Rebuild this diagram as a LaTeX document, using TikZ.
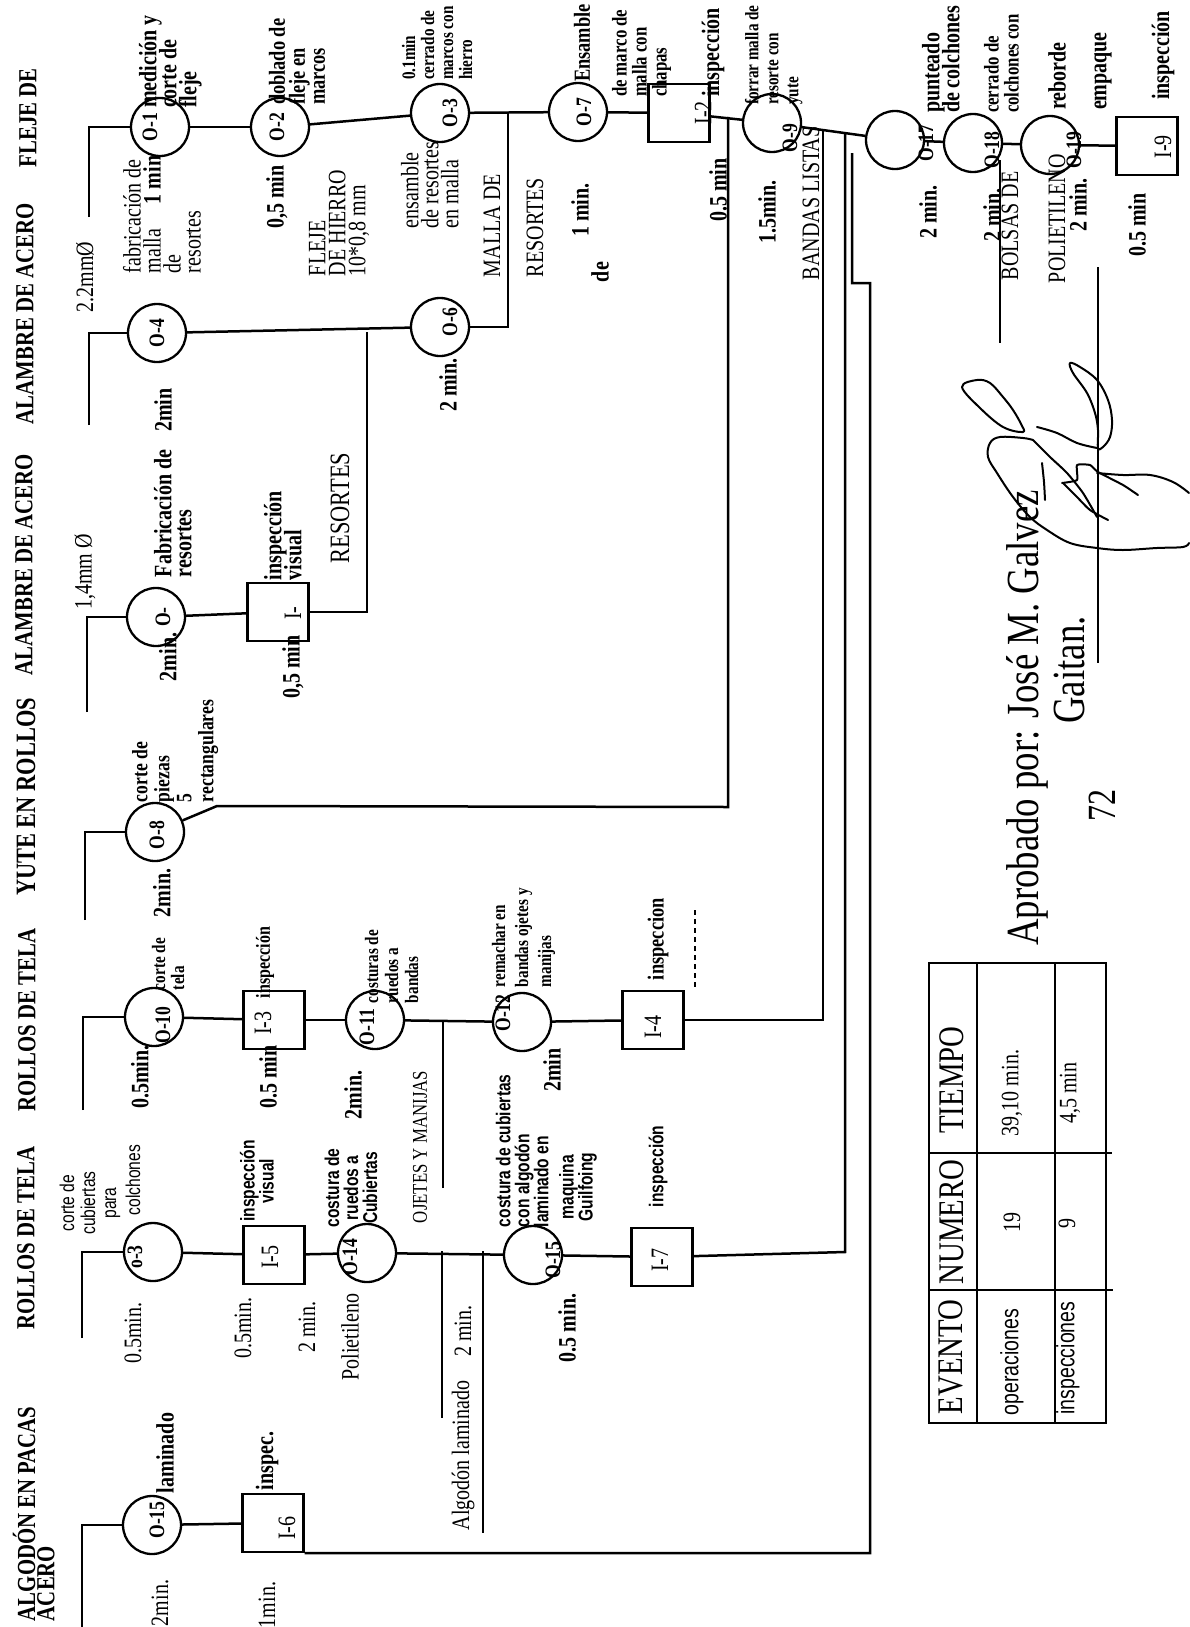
\documentclass[tikz,border=0pt]{standalone}
\usepackage{fontspec}
\setmainfont{Liberation Serif}
\newfontfamily\fsr[FakeStretch=0.8]{Liberation Serif}
\newfontfamily\fsn[FakeStretch=0.78]{Liberation Sans}
\newcommand\ftR{\fsr\fontsize{25}{20}\selectfont\lineskiplimit=-50pt\relax}
\newcommand\ftRa{\fsr\fontsize{21}{19}\selectfont\lineskiplimit=-50pt\relax}
\newcommand\ftB{\fsr\bfseries\fontsize{25}{20}\selectfont\lineskiplimit=-50pt\relax}
\newcommand\ftBc{\fsr\bfseries\fontsize{23}{20}\selectfont\lineskiplimit=-50pt\relax}
\newcommand\ftBd{\fsr\bfseries\fontsize{22}{20}\selectfont\lineskiplimit=-50pt\relax}
\newcommand\ftBa{\fsr\bfseries\fontsize{21}{20}\selectfont\lineskiplimit=-50pt\relax}
\newcommand\ftBe{\fsr\bfseries\fontsize{20}{20}\selectfont\lineskiplimit=-50pt\relax}
\newcommand\ftBb{\fsr\bfseries\fontsize{19}{19}\selectfont\lineskiplimit=-50pt\relax}
\newcommand\ftC{\fsr\bfseries\fontsize{22}{20}\selectfont}
\newcommand\ftS{\fsn\fontsize{20}{21}\selectfont\lineskiplimit=-50pt\relax}
\newcommand\ftSB{\fsn\bfseries\fontsize{20}{19}\selectfont\lineskiplimit=-50pt\relax}
\newcommand\ftSL{\fsn\fontsize{25}{25}\selectfont}
\newcommand\ftH{\fsr\bfseries\fontsize{26}{24}\selectfont}
\newcommand\ftHb{\fsr\bfseries\fontsize{28}{24}\selectfont}
\newcommand\ftT{\fsr\fontsize{36}{36}\selectfont}
\newcommand\ftA{\fsr\fontsize{46}{46}\selectfont}
\newcommand\ftN{\fsr\fontsize{28}{28}\selectfont}
\newcommand\ftP{\fsr\fontsize{40}{40}\selectfont}
\begin{document}
\begin{tikzpicture}[x=1pt,y=-1pt,
  lw/.style={line width=2.5pt},
  opc/.style={circle,draw,line width=2.3pt,minimum size=58pt,inner sep=0pt},
  ins/.style={rectangle,draw,line width=2.3pt,minimum width=61pt,minimum height=58pt,inner sep=0pt},
  tx/.style={rotate=90,inner sep=0pt,outer sep=0pt},
  tr/.style={tx,font=\ftR},
  tb/.style={tx,font=\ftB},
  tc/.style={tx,font=\ftC},
  ts/.style={tx,font=\ftS},
  tsb/.style={tx,font=\ftSB},
  hd/.style={tx,font=\ftH},
  blk/.style={align=left,anchor=north west},
  cblk/.style={align=center},
  sig/.style={line width=2pt,line cap=round,line join=round},
]
\fill[white] (0,0) rectangle (1189,1627);
\path[use as bounding box] (0,0) rectangle (1189,1627);

% ---------------- headers
\node[hd] (h1) at (28,118) {FLEJE DE};
\node[hd] (h2) at (25,314) {ALAMBRE DE ACERO};
\node[hd] (h3) at (24,565) {ALAMBRE DE ACERO};
\node[hd,font=\ftHb] (h4) at (26,797) {YUTE EN ROLLOS};
\node[hd] (h5) at (27,1020) {ROLLOS DE TELA};
\node[hd] (h6) at (26,1238) {ROLLOS DE TELA};
\node[hd,anchor=west] (h7) at (24,1621) {ALGODÓN EN PACAS};
\node[hd,anchor=west] (h8) at (46,1621) {ACERO};

% ---------------- row A (fleje)
\coordinate (sA) at (89,217);
\node[opc] (o1) at (160,127) {};
\node[opc] (o2) at (280,127) {};
\node[opc] (o3) at (440,113) {};
\node[opc] (o7) at (578,112) {};
\node[ins] (i2) at (679,113) {};
\node[opc] (o9) at (772,123) {};
\node[opc] (o17) at (895,140) {};
\node[opc] (o18) at (973,143) {};
\node[opc] (o19) at (1050,145) {};
\node[ins] (i9) at (1147,146) {};
\draw[lw] (sA) |- (o1);
\draw[lw] (o1) -- (o2);
\draw[lw] (o2) -- (o3);
\draw[lw] (o3) -- (o7);
\draw[lw] (o7) -- (i2);
\draw[lw] (i2) -- (o9);
\draw[lw] (o9) -- (o17);
\draw[lw] (o17) -- (o18);
\draw[lw] (o18) -- (o19);
\draw[lw] (o19) -- (i9);

\node[tc] (l1) at (150,127) {O-1};
\node[tc] (l2) at (277,127) {O-2};
\node[tc] (l3) at (450,113) {O-3};
\node[tc] (l7) at (584,112) {O-7};
\node[tr] (li2) at (703,113) {I-2};
\node[tc] (l9) at (790,138) {O-9};
\node[tc] (l17) at (926,143) {O-17};
\node[tc] (l18) at (992,150) {O-18};
\node[tc] (l19) at (1074,150) {O-19};
\node[tr] (li9) at (1163,147) {I-9};

\node[tb,blk] (a1) at (139,108) {medición y\\corte de\\fleje};
\node[tb] (a2) at (152,180) {1 min};
\node[tr,blk] (a3) at (123,273) {fabricación de\\malla\\de\\resortes};
\node[tb,blk,font=\ftBc] (a4) at (269,105) {doblado de\\fleje en\\marcos};
\node[tb] (a5) at (277,197) {0,5 min};
\node[tr,blk] (a6) at (309,276) {FLEJE\\DE HIERRO\\10*0,8 mm};
\node[tr] (a7) at (85,277) {2.2mmØ};
\node[tb,blk,font=\ftBb] (a8) at (402,80) {0.1min\\cerrado de\\marcos con\\hierro};
\node[tr,blk] (a9) at (401,228) {ensamble\\de resortes\\en malla};
\node[tb] (a10) at (448,385) {2 min.};
\node[tr,anchor=west] (a11) at (492,277) {MALLA DE};
\node[tr,anchor=west] (a12) at (535,277) {RESORTES};
\node[tb] (a13) at (600,272) {de};
\node[tb] (a14) at (580,210) {1 min.};
\node[tb,anchor=west,font=\ftBc] (a15) at (582,82) {Ensamble};
\node[tb,blk,font=\ftBa] (a16) at (612,97) {de marco de\\malla con\\chapas};
\node[tb,anchor=west] (a17) at (713,97) {inspección};
\node[tb] (a18) at (718,190) {0.5 min};
\node[tb,blk,font=\ftBb] (a19) at (745,105) {forrar malla de\\[1pt]resorte con\\[1pt]yute};
\node[tb] (a20) at (767,212) {1.5min.};
\node[tr,anchor=base west] (a21) at (819,280) {BANDAS LISTAS};
\node[tb,blk] (a22) at (922,113) {punteado\\de colchones};
\node[tb] (a23) at (928,212) {2 min.};
\node[tb,blk,font=\ftBa] (a24) at (984,113) {cerrado de\\colchones con};
\node[tb] (a25) at (992,215) {2 min.};
\node[tr,anchor=west] (a26) at (1010,280) {BOLSAS DE};
\node[tb,anchor=west] (a27) at (1057,110) {reborde};
\node[tr,anchor=west] (a28) at (1057,283) {POLIETILENO};
\node[tb] (a29) at (1078,205) {2 min.};
\node[tb,anchor=west] (a30) at (1103,110) {empaque};
\node[tb,anchor=west] (a31) at (1163,100) {inspección};
\node[tb] (a32) at (1137,225) {0.5 min};

% ---------------- row B (alambre 2.2)
\coordinate (sB) at (89,425);
\node[opc] (o4) at (157,333) {};
\node[opc] (o6) at (440,327) {};
\coordinate (jI) at (367,332);
\coordinate (jM) at (508,113);
\draw[lw] (sB) |- (o4);
\draw[lw] (o4) -- (o6);
\draw[lw] (o6) -| (jM);
\node[tc] (l4) at (157,333) {O-4};
\node[tc] (l6) at (450,322) {O-6};
\node[tb] (b1) at (163,410) {2min};

% ---------------- row C (alambre 1.4)
\coordinate (sC) at (87,712);
\node[opc] (o5) at (156,617) {};
\node[ins] (i1) at (278,612) {};
\draw[lw] (sC) |- (o5);
\draw[lw] (o5) -- (i1);
\draw[lw] (i1) -| (jI);
\node[tc] (l5) at (163,617) {O-};
\node[tr] (li1) at (293,613) {I-};
\node[tr] (c1) at (85,572) {1,4mm Ø};
\node[tb,blk] (c2) at (154,577) {Fabricación de\\resortes};
\node[tb] (c3) at (168,657) {2min.};
\node[tb,blk] (c4) at (264,580) {inspección\\visual};
\node[tb] (c5) at (293,667) {0,5 min};
\node[tx,font=\ftN] (c6) at (340,508) {RESORTES};

% ---------------- row D (yute)
\coordinate (sD) at (85,920);
\node[opc] (o8) at (155,832) {};
\coordinate (dA) at (217,806);
\coordinate (dB) at (728,807);
\coordinate (jA) at (728,117);
\draw[lw] (sD) |- (o8);
\draw[lw] (o8) -- (dA) -- (dB) -- (jA);
\node[tc] (l8) at (157,835) {O-8};
\node[tb,blk,font=\ftBd] (d1) at (132,802) {corte de\\[2pt]piezas\\[2pt]5\\[2pt]rectangulares};
\node[tb] (d2) at (162,893) {2min.};

% ---------------- row E (rollos de tela 1)
\coordinate (sE) at (83,1110);
\node[opc] (o10) at (154,1017) {};
\node[ins] (i3) at (274,1020) {};
\node[opc] (o11) at (375,1020) {};
\node[opc] (o12) at (522,1022) {};
\node[ins] (i4) at (653,1020) {};
\coordinate (eA) at (823,1020);
\coordinate (eB) at (823,131);
\coordinate (jO) at (443,1020);
\coordinate (eO) at (443,1188);
\draw[lw] (sE) |- (o10);
\draw[lw] (o10) -- (i3);
\draw[lw] (i3) -- (o11);
\draw[lw] (o11) -- (o12);
\draw[lw] (o12) -- (i4);
\draw[lw] (i4) -- (eA) -- (eB);
\draw[lw] (eO) -- (jO);
\node[tc] (l10) at (163,1025) {O-10};
\node[tr] (li3) at (263,1023) {I-3};
\node[tc] (l11) at (367,1027) {O-11};
\node[tc] (l12) at (503,1013) {O-12};
\node[tr] (li4) at (653,1027) {I-4};
\node[tb,blk,font=\ftBb] (e1) at (152,990) {corte de\\tela};
\node[tb] (e2) at (140,1077) {0.5min.};
\node[tb,anchor=west,font=\ftBe] (e3) at (265,998) {inspección};
\node[tb] (e4) at (268,1077) {0.5 min};
\node[tb,blk,font=\ftBb] (e5) at (365,1003) {costuras de\\[1pt]ruedos a\\[1pt]bandas};
\node[tb] (e6) at (353,1095) {2min.};
\node[tr,font=\ftRa] (e7) at (420,1147) {OJETES Y MANIJAS};
\node[tb,blk,font=\ftBb] (e8) at (492,987) {remachar en\\[4pt]bandas ojetes y\\[4pt]manijas};
\node[tb] (e9) at (552,1070) {2min};
\node[tb,anchor=west,font=\ftBc] (e10) at (658,980) {inspeccion};
\coordinate (dq1) at (695,910);
\coordinate (dq2) at (695,987);
\draw[line width=1.5pt,dash pattern=on 5pt off 4pt] (dq1) -- (dq2);

% ---------------- row F (rollos de tela 2)
\coordinate (sF) at (82,1338);
\node[opc] (o3b) at (153,1252) {};
\node[ins] (i5) at (274,1255) {};
\node[opc] (o14) at (367,1253) {};
\node[opc] (o15b) at (533,1255) {};
\node[ins] (i7) at (662,1257) {};
\coordinate (fA) at (845,1252);
\coordinate (fB) at (845,134);
\coordinate (fj1) at (442,1251);
\coordinate (fj1e) at (442,1418);
\coordinate (fj2) at (483,1251);
\coordinate (fj2e) at (483,1533);
\draw[lw] (sF) |- (o3b);
\draw[lw] (o3b) -- (i5);
\draw[lw] (i5) -- (o14);
\draw[lw] (o14) -- (o15b);
\draw[lw] (o15b) -- (i7);
\draw[lw] (i7) -- (fA) -- (fB);
\draw[lw] (fj1) -- (fj1e);
\draw[lw] (fj2) -- (fj2e);
\node[tc] (l3b) at (135,1257) {o-3};
\node[tr] (li5) at (270,1257) {I-5};
\node[tc] (l14) at (350,1257) {O-14};
\node[tc] (l15b) at (553,1260) {O-15};
\node[tr] (li7) at (660,1260) {I-7};
\node[ts,cblk] (f1) at (90,1203) {corte de\\cubiertas\\para};
\node[ts] (f2) at (133,1180) {colchones};
\node[tr] (f3) at (133,1333) {0.5min.};
\node[tsb,cblk] (f4) at (257,1181) {inspección\\visual};
\node[tr] (f5) at (243,1328) {0.5min.};
\node[tr] (f6) at (307,1327) {2 min.};
\node[tr] (f7) at (350,1337) {Polietileno};
\node[tsb,cblk] (f8) at (351,1188) {costura de\\ruedos a\\Cubiertas};
\node[tr,anchor=west] (f9) at (463,1530) {Algodón laminado};
\node[tr] (f10) at (463,1331) {2 min.};
\node[tsb,blk] (f11) at (496,1227) {costura de cubiertas\\con algodón\\laminado en};
\node[tsb,cblk] (f12) at (578,1187) {maquina\\Guilfoing};
\node[tb] (f13) at (567,1328) {0.5 min.};
\node[tsb,anchor=west] (f14) at (658,1207) {inspección};

% ---------------- row G (algodon)
\coordinate (sG) at (82,1627);
\node[opc] (o15a) at (152,1525) {};
\node[ins] (i6) at (273,1523) {};
\coordinate (gA) at (870,1553);
\coordinate (gB) at (870,283);
\coordinate (gC) at (852,283);
\coordinate (gD) at (852,153);
\draw[lw] (sG) |- (o15a);
\draw[lw] (o15a) -- (i6);
\draw[lw] (i6.south east) -- (gA) -- (gB) -- (gC) -- (gD);
\node[tc] (l15a) at (157,1520) {O-15};
\node[tr] (li6) at (287,1528) {I-6};
\node[tb,anchor=west] (g1) at (165,1493) {laminado};
\node[tr] (g2) at (160,1603) {2min.};
\node[tb,anchor=west] (g3) at (267,1490) {inspec.};
\node[tr] (g4) at (267,1605) {1min.};

% ---------------- bolsas line, signature line
\coordinate (bs1) at (1000,160);
\coordinate (bs2) at (1000,343);
\draw[lw] (bs1) -- (bs2);
\coordinate (sl1) at (1098,267);
\coordinate (sl2) at (1098,663);
\draw[line width=2pt] (sl1) -- (sl2);

% ---------------- table
\draw[line width=2.2pt] (929,963) rectangle (1106,1423);
\draw[line width=2.2pt] (977,963) -- (977,1423);
\draw[line width=2.2pt] (1055,963) -- (1055,1423);
\draw[line width=2.2pt] (929,1153) -- (1112,1153);
\draw[line width=2.2pt] (929,1290) -- (1113,1290);
\node[tx,font=\ftT] (t1) at (952,1080) {TIEMPO};
\node[tx,font=\ftT] (t2) at (952,1222) {NUMERO};
\node[tx,font=\ftT] (t3) at (951,1357) {EVENTO};
\node[tr] (t4) at (1012,1093) {39,10 min.};
\node[tr] (t5) at (1070,1093) {4,5 min};
\node[tr] (t6) at (1012,1222) {19};
\node[tr] (t7) at (1067,1223) {9};
\node[tx,font=\ftSL] (t8) at (1012,1362) {operaciones};
\node[tx,font=\ftSL] (t9) at (1068,1358) {inspecciones};

% ---------------- approval
\node[tx,font=\ftA] (ap1) at (1027,718) {Aprobado por: José M. Galvez};
\node[tx,font=\ftA] (ap2) at (1070,670) {Gaitan.};
\node[tx,font=\ftP] (pg) at (1102,805) {72};

% ---------------- signature
\draw[sig] plot[smooth cycle,tension=0.6] coordinates {(962,387) (977,380) (990,383) (1003,397) (1013,410) (1021,424) (1023,432) (1003,427) (980,408)};
\draw[sig] plot[smooth,tension=0.6] coordinates {(1033,440) (1023,438) (1000,437) (990,443) (988,457) (997,473) (1013,497) (1030,517) (1047,530) (1070,543) (1097,548) (1123,550) (1157,548) (1183,547) (1189,543)};
\draw[sig] plot[smooth,tension=0.6] coordinates {(1037,427) (1057,433) (1077,443) (1097,448)};
\draw[sig] plot[smooth cycle,tension=0.6] coordinates {(1070,363) (1080,367) (1097,380) (1108,400) (1112,420) (1110,437) (1103,447) (1098,448) (1098,430) (1095,413) (1087,393) (1073,373)};
\draw[sig] plot[smooth,tension=0.4] coordinates {(1033,440) (1050,457) (1067,473) (1083,493) (1097,517)};
\draw[sig] plot[smooth,tension=0.4] coordinates {(1063,483) (1077,497) (1090,510) (1108,520)};
\draw[sig] plot[smooth,tension=0.3] coordinates {(1062,483) (1077,480) (1077,465) (1090,465) (1098,472) (1123,485) (1138,495)};
\draw[sig] plot[smooth,tension=0.4] coordinates {(1042,463) (1044,482) (1045,500)};
\draw[sig] plot[smooth,tension=0.6] coordinates {(1097,473) (1123,475) (1150,475) (1173,482) (1189,493)};
\end{tikzpicture}
\end{document}
